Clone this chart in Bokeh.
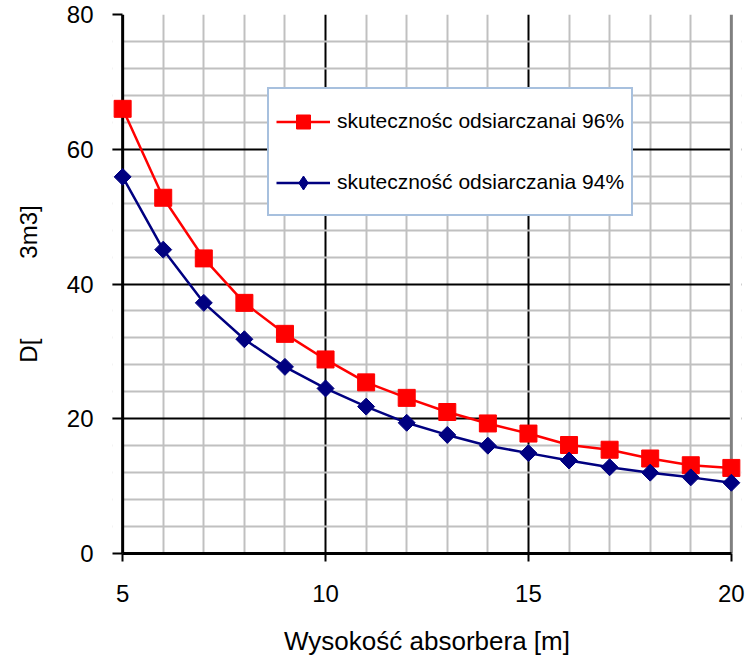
import math
from bokeh.plotting import figure
from bokeh.models import (FixedTicker, Legend, LegendItem, Range1d, Grid, Span,
                          BoxAnnotation)
from bokeh.embed import file_html
from bokeh.resources import INLINE

# Absorber height [m]
heights = [5, 6, 7, 8, 9, 10, 11, 12, 13, 14, 15, 16, 17, 18, 19, 20]
# Diameter values for the two desulphurisation efficiencies
eff_96 = [66.0, 52.8, 43.8, 37.2, 32.6, 28.8, 25.4, 23.1, 21.0, 19.3, 17.8, 16.1,
          15.4, 14.1, 13.1, 12.7]
eff_94 = [55.9, 45.1, 37.2, 31.8, 27.7, 24.5, 21.8, 19.4, 17.6, 16.0, 14.9, 13.8,
          12.8, 12.0, 11.3, 10.5]
series_names = ["skutecznośc odsiarczanai 96%", "skuteczność odsiarczania 94%"]
x_ticks = [5, 10, 15, 20]
y_ticks = [0, 20, 40, 60, 80]
x_title = "Wysokość absorbera [m]"
y_title = "D[" + "\u00a0" * 12 + "3m3]"

FONT = "Liberation Sans"
NAVY = "#000080"
X0, X1 = x_ticks[0], x_ticks[-1]
PAD = 0.25  # room so the end markers are drawn whole

p = figure(width=747, height=661, output_backend="svg", toolbar_location=None,
           x_range=Range1d(X0 - PAD, X1 + PAD), y_range=Range1d(y_ticks[0], y_ticks[-1]),
           min_border_left=112, min_border_right=6, min_border_top=14,
           min_border_bottom=108)
p.background_fill_color = "white"
p.border_fill_color = "white"
p.outline_line_color = None

# grid: light minor lines, black major lines
p.xgrid.ticker = FixedTicker(ticks=[10, 15],
                             minor_ticks=[h for h in heights if h not in x_ticks])
p.ygrid.ticker = FixedTicker(ticks=[20, 40, 60],
                             minor_ticks=[v for v in range(4, 80, 4) if v % 20 != 0])
for g in (p.xgrid, p.ygrid):
    g.grid_line_color = "black"
    g.grid_line_width = 2
    g.minor_grid_line_color = "#c0c0c0"
    g.minor_grid_line_width = 2
    g.level = "underlay"

# grey top border of the plotting area
top_border = Grid(dimension=1, ticker=FixedTicker(ticks=[y_ticks[-1]]),
                  grid_line_color="#808080", grid_line_width=3, level="underlay")
p.add_layout(top_border)

# blank the padding strips left of 5 and right of 20
for lo, hi in ((X0 - PAD, X0), (X1, X1 + PAD)):
    p.add_layout(BoxAnnotation(left=lo, right=hi, fill_color="white", fill_alpha=1,
                               line_color=None, level="underlay"))

# right border (grey) and left axis line (black)
p.add_layout(Span(location=X1, dimension="height", line_color="#808080",
                  line_width=3, level="underlay"))
p.add_layout(Span(location=X0, dimension="height", line_color="black",
                  line_width=3, level="underlay"))

# axes
p.xaxis.ticker = FixedTicker(ticks=x_ticks)
p.yaxis.ticker = FixedTicker(ticks=y_ticks)
for ax in (p.xaxis, p.yaxis):
    ax.major_tick_line_color = "black"
    ax.major_tick_line_width = 2
    ax.minor_tick_line_color = None
    ax.major_label_text_font = FONT
    ax.major_label_text_font_size = "24px"
    ax.major_label_text_color = "black"
p.xaxis.bounds = (X0, X1)
p.xaxis.axis_line_color = "black"
p.xaxis.axis_line_width = 3
p.xaxis.major_tick_in = 0
p.xaxis.major_tick_out = 8
p.xaxis.major_label_standoff = 23

p.yaxis.axis_line_color = None
p.yaxis.major_tick_in = 10
p.yaxis.major_tick_out = 0
p.yaxis.major_label_standoff = 19

p.xaxis.axis_label = x_title
p.xaxis.axis_label_text_font = FONT
p.xaxis.axis_label_text_font_size = "26px"
p.xaxis.axis_label_text_font_style = "normal"
p.xaxis.axis_label_text_color = "black"
p.xaxis.axis_label_standoff = 21

p.yaxis.axis_label = y_title
p.yaxis.axis_label_text_font = FONT
p.yaxis.axis_label_text_font_size = "24px"
p.yaxis.axis_label_text_font_style = "normal"
p.yaxis.axis_label_text_color = "black"
p.yaxis.axis_label_standoff = 22

# series
r96_line = p.line(heights, eff_96, line_color="red", line_width=2.5)
r96_pts = p.scatter(heights, eff_96, marker="square", size=17,
                    fill_color="red", line_color="red")
r94_line = p.line(heights, eff_94, line_color=NAVY, line_width=2.5)
# plain diamonds serve as the legend key (legend keys ignore marker rotation);
# the rotated squares drawn over them give the wider diamond points
r94_key = p.scatter(heights, eff_94, marker="diamond", size=12,
                    fill_color=NAVY, line_color=NAVY)
r94_pts = p.scatter(heights, eff_94, marker="square", size=12, angle=math.pi / 4,
                    fill_color=NAVY, line_color=NAVY)

legend = Legend(items=[LegendItem(label=series_names[0], renderers=[r96_line, r96_pts]),
                       LegendItem(label=series_names[1], renderers=[r94_line, r94_key])],
                location=(155, 337))
legend.border_line_color = "#4f81bd"
legend.border_line_width = 2
legend.background_fill_color = "white"
legend.background_fill_alpha = 1
legend.padding = 7
legend.margin = 0
legend.spacing = 11
legend.glyph_width = 54
legend.glyph_height = 35
legend.label_height = 50
legend.label_standoff = 7
legend.label_text_font = FONT
legend.label_text_font_size = "21px"
legend.label_text_color = "black"
p.add_layout(legend, "center")

open("out.html", "w").write(file_html(p, INLINE))
